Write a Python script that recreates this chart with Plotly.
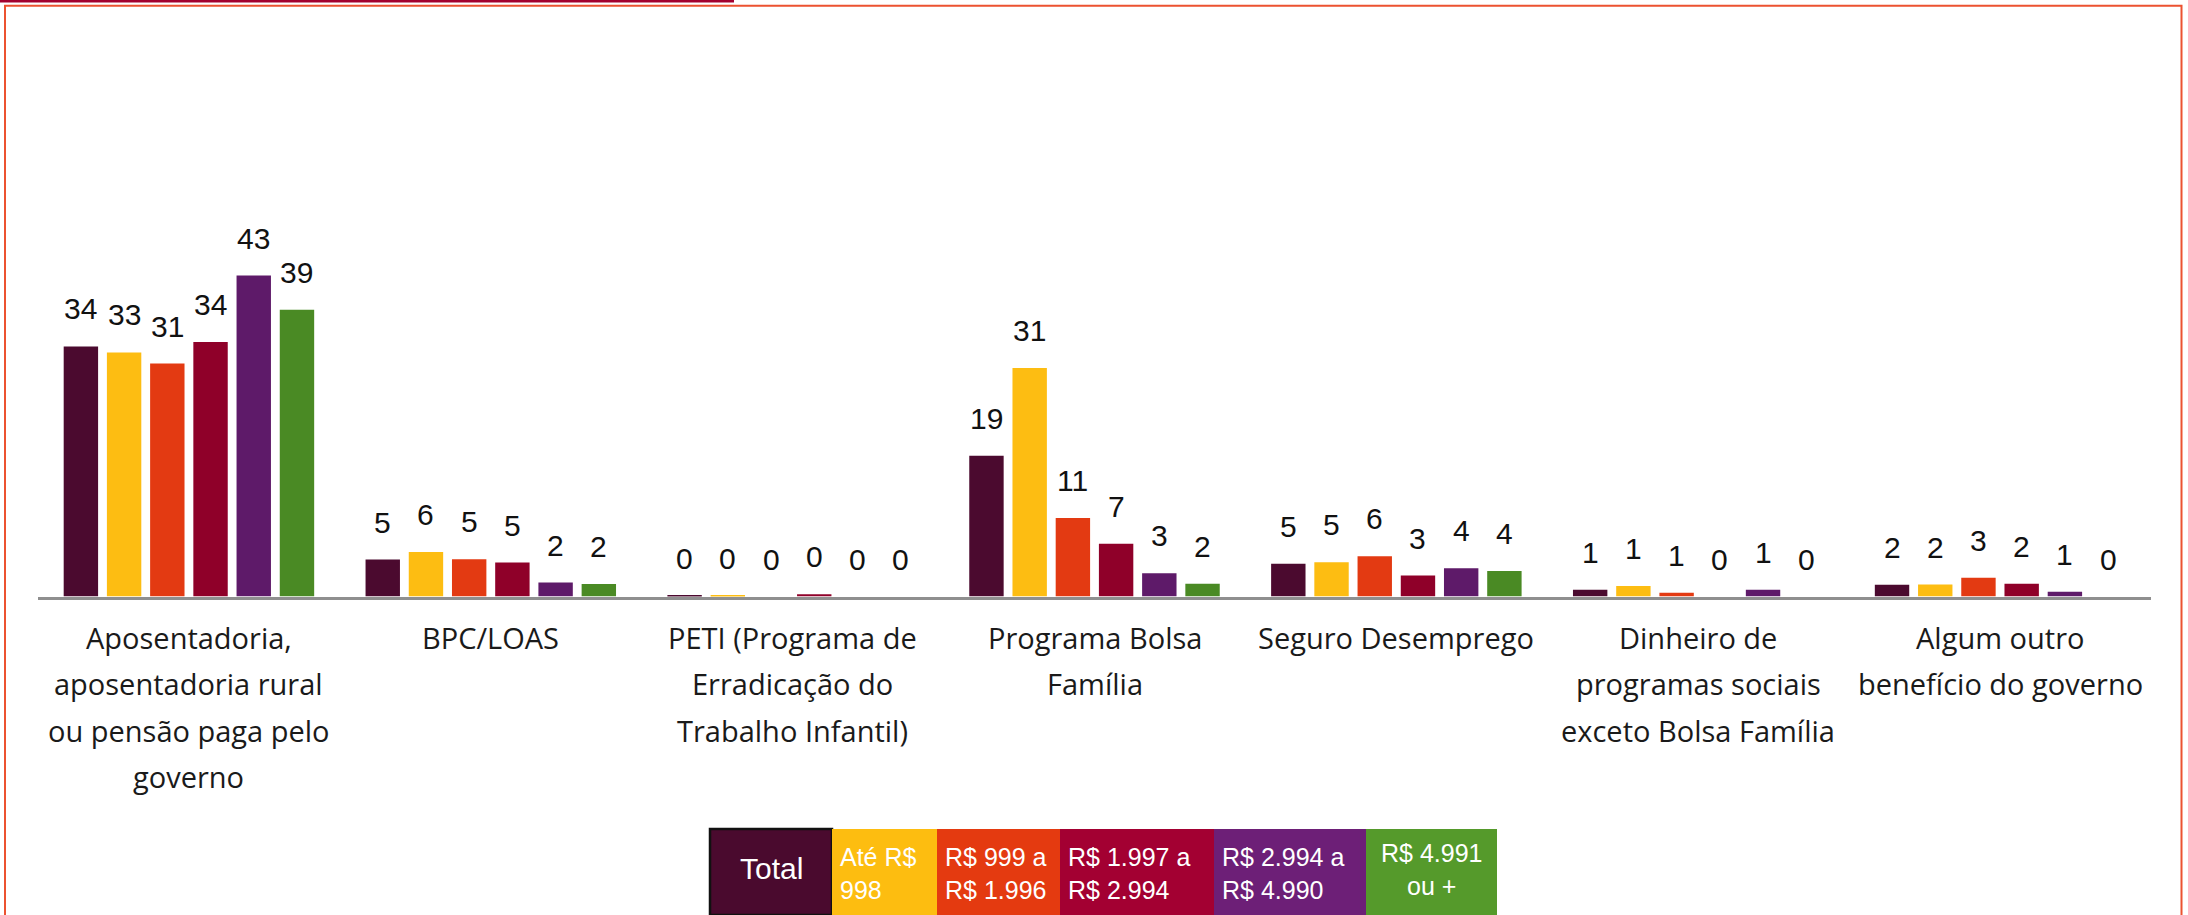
import plotly.graph_objects as go

# ---------------- data ----------------
categories = [
    "Aposentadoria,<br>aposentadoria rural<br>ou pensão paga pelo<br>governo",
    "BPC/LOAS",
    "PETI (Programa de<br>Erradicação do<br>Trabalho Infantil)",
    "Programa Bolsa<br>Família",
    "Seguro Desemprego",
    "Dinheiro de<br>programas sociais<br>exceto Bolsa Família",
    "Algum outro<br>benefício do governo",
]
series_names = ["Total", "Até R$<br>998", "R$ 999 a<br>R$ 1.996",
                "R$ 1.997 a<br>R$ 2.994", "R$ 2.994 a<br>R$ 4.990", "R$ 4.991<br>ou +"]

total_vals = [33.5, 4.95, 0.1, 18.85, 4.4, 0.9, 1.57]
ate998_vals = [32.7, 5.97, 0.1, 30.6, 4.6, 1.4, 1.6]
r999_vals = [31.2, 5.0, 0.0, 10.5, 5.4, 0.5, 2.5]
r1997_vals = [34.1, 4.55, 0.3, 7.06, 2.8, 0.0, 1.7]
r2994_vals = [43.0, 1.87, 0.0, 3.1, 3.8, 0.9, 0.63]
r4991_vals = [38.4, 1.69, 0.0, 1.7, 3.4, 0.0, 0.0]

total_lbl = [34, 5, 0, 19, 5, 1, 2]
ate998_lbl = [33, 6, 0, 31, 5, 1, 2]
r999_lbl = [31, 5, 0, 11, 6, 1, 3]
r1997_lbl = [34, 5, 0, 7, 3, 0, 2]
r2994_lbl = [43, 2, 0, 3, 4, 1, 1]
r4991_lbl = [39, 2, 0, 2, 4, 0, 0]

series_vals = [total_vals, ate998_vals, r999_vals, r1997_vals, r2994_vals, r4991_vals]
series_lbls = [total_lbl, ate998_lbl, r999_lbl, r1997_lbl, r2994_lbl, r4991_lbl]

bar_colors = ["#4b0a2f", "#fdbd12", "#e33a12", "#8f0029", "#5e1a69", "#4a8a24"]
legend_colors = ["#4a0a2e", "#fdbd10", "#e43a10", "#a30032", "#6d1f77", "#559a2b"]

# ---------------- layout constants ----------------
W, H = 2188, 915
BASE_PX = 596.5
X0_PX, X1_PX = 38, 2151
PX_PER_UNIT = 7.465
BARGAP = 0.141
BARGROUPGAP = 0.204
VAL_FONT = "Liberation Sans, Arial, sans-serif"
CAT_FONT = "Open Sans, sans-serif"

def py(p):
    return 1 - p / H

def px(p):
    return p / W

y_dom0 = py(BASE_PX)
y_top = BASE_PX / PX_PER_UNIT

xs = list(range(len(categories)))
fig = go.Figure()
for name, vals, col in zip(series_names, series_vals, bar_colors):
    fig.add_trace(go.Bar(x=xs, y=vals, name=name, marker=dict(color=col, line=dict(width=0)),
                         showlegend=False, hoverinfo="y"))

annotations = []
n = len(series_names)
slot = (1 - BARGAP) / n
for j, lbls in enumerate(series_lbls):
    for i, lab in enumerate(lbls):
        annotations.append(dict(
            x=i + (j - (n - 1) / 2) * slot, y=series_vals[j][i], xref="x", yref="y",
            text=str(lab), showarrow=False, yanchor="middle", xanchor="center",
            yshift=37.5, font=dict(family=VAL_FONT, size=30, color="#111111")))

# category labels (line spacing as in the reference)
for i, cat in enumerate(categories):
    for k, line in enumerate(cat.split("<br>")):
        annotations.append(dict(
            x=i, y=py(637 + k * 46.5), xref="x", yref="paper", text=line,
            showarrow=False, xanchor="center", yanchor="middle",
            font=dict(family=CAT_FONT, size=29, color="#1a1a1a")))

# custom legend boxes
edges = [710, 832, 937, 1060, 1214, 1366, 1497]
shapes = []
for j, col in enumerate(legend_colors):
    shapes.append(dict(type="rect", xref="paper", yref="paper",
                       x0=px(edges[j]), x1=px(edges[j + 1]), y0=py(915), y1=py(829),
                       fillcolor=col, line=dict(width=2.5 if j == 0 else 0, color="#111111"),
                       layer="above"))
for j, name in enumerate(series_names):
    if j == 0:
        annotations.append(dict(x=px((edges[0] + edges[1]) / 2), y=py(868), xref="paper", yref="paper",
                                text=name, showarrow=False, xanchor="center", yanchor="middle",
                                font=dict(family=VAL_FONT, size=30, color="white")))
    elif j == n - 1:
        annotations.append(dict(x=px((edges[j] + edges[j + 1]) / 2), y=py(869), xref="paper", yref="paper",
                                text=name, showarrow=False, xanchor="center", yanchor="middle", align="center",
                                font=dict(family=VAL_FONT, size=25, color="white")))
    else:
        annotations.append(dict(x=px(edges[j] + 6), y=py(873), xref="paper", yref="paper",
                                text=name, showarrow=False, xanchor="left", yanchor="middle", align="left",
                                font=dict(family=VAL_FONT, size=25, color="white")))

# frame decorations
shapes.append(dict(type="rect", xref="paper", yref="paper", x0=px(5), x1=px(2181.5),
                   y0=-0.05, y1=py(5.7), line=dict(color="#ec5230", width=2), fillcolor="rgba(0,0,0,0)"))
shapes.append(dict(type="rect", xref="paper", yref="paper", x0=0, x1=px(734),
                   y0=py(2.5), y1=1, line=dict(width=0), fillcolor="#a3002f"))

fig.update_layout(
    width=W, height=H, margin=dict(l=0, r=0, t=0, b=0),
    paper_bgcolor="white", plot_bgcolor="white",
    barmode="group", bargap=BARGAP, bargroupgap=BARGROUPGAP,
    xaxis=dict(domain=[px(X0_PX), px(X1_PX)], range=[-0.5, len(categories) - 0.5],
               showticklabels=False, ticks="", showgrid=False, zeroline=False,
               showline=True, linecolor="#8f8f8f", linewidth=2.5, fixedrange=True),
    yaxis=dict(domain=[y_dom0, 1], range=[0, y_top], visible=False, showgrid=False,
               zeroline=False, fixedrange=True),
    annotations=annotations, shapes=shapes, showlegend=False,
)

fig.write_html("out.html", config={"displayModeBar": False},
               post_script="document.body.style.margin='0';document.body.style.overflow='hidden';")
